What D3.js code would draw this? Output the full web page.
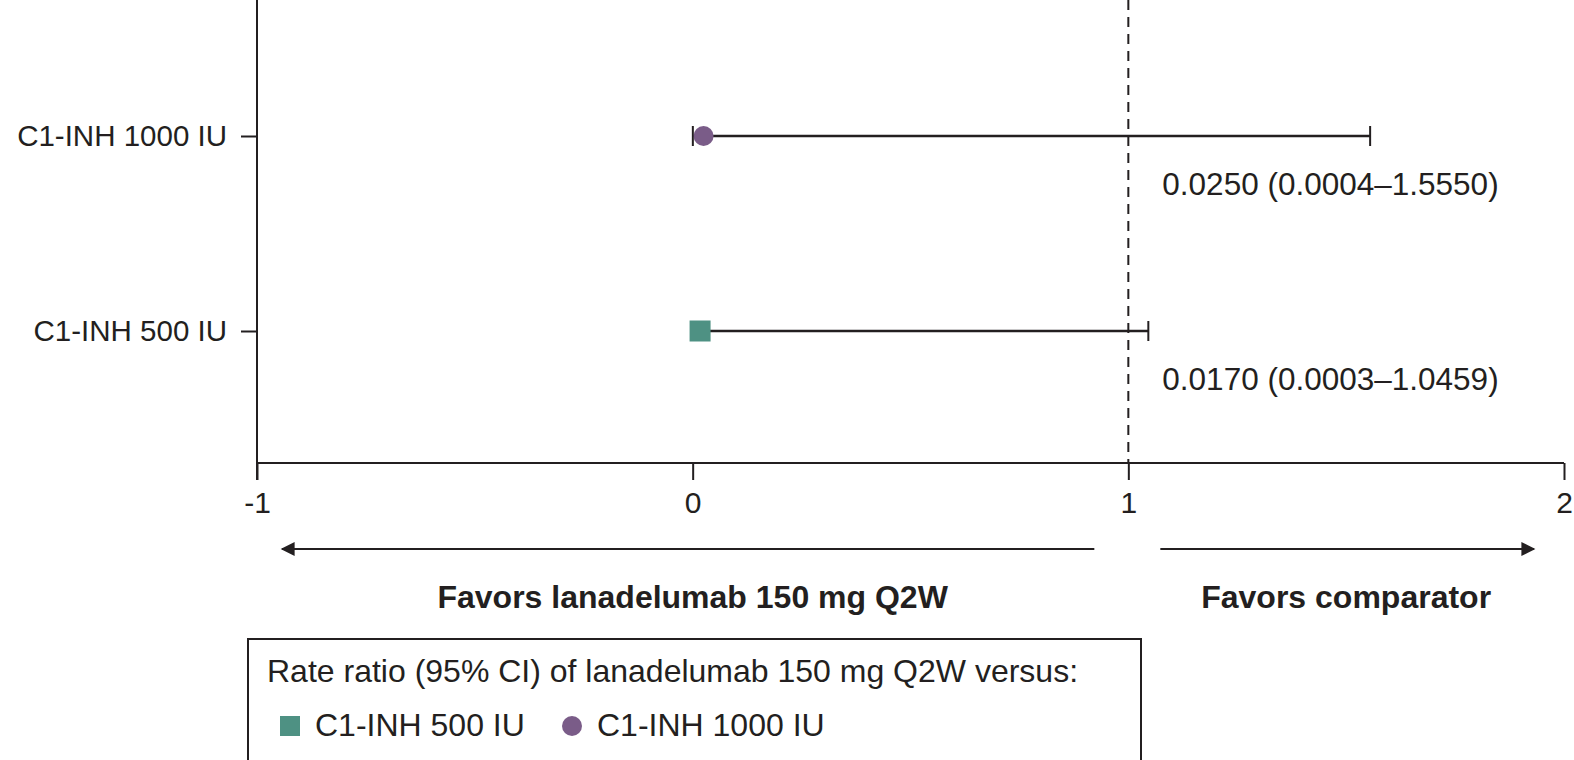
<!DOCTYPE html>
<html>
<head>
<meta charset="utf-8">
<script src="https://cdn.jsdelivr.net/npm/d3@7"></script>
<style>
  body { margin: 0; background: #fff; }
  svg text { font-family: "Liberation Sans", Arial, sans-serif; fill: #231f20; }
</style>
</head>
<body>
<div id="chart-area"></div>
<script>
// SVG size
let width = 1574,
	height = 760;

// data
let groups = ["C1-INH 1000 IU", "C1-INH 500 IU"];
let estimates = [0.0250, 0.0170];
let lowerCI = [0.0004, 0.0003];
let upperCI = [1.5550, 1.0459];
let ciLabels = ["0.0250 (0.0004\u20131.5550)", "0.0170 (0.0003\u20131.0459)"];
let shapes = ["circle", "square"];
let colors = ["#7a5c88", "#4e9183"];
let xTicks = [-1, 0, 1, 2];
let favorLabels = ["Favors lanadelumab 150 mg Q2W", "Favors comparator"];
let legendTitle = "Rate ratio (95% CI) of lanadelumab 150 mg Q2W versus:";
let legendOrder = [1, 0]; // 500 IU first, then 1000 IU

drawChart();

function drawChart() {
	let svg = d3.select("#chart-area").append("svg").attr("width", width).attr("height", height);

	let left = 257, right = 1564, axisY = 463;
	let ink = "#231f20";

	let x = d3.scaleLinear().domain([-1, 2]).range([left, right]);
	let y = d3.scalePoint().domain(groups).range([136, 331]);

	// reference line at 1
	svg.append("line")
	.attr("x1", x(1)).attr("x2", x(1))
	.attr("y1", 0).attr("y2", axisY)
	.attr("stroke", ink).attr("stroke-width", 2)
	.attr("stroke-dasharray", "10,7");

	// axes
	let xAxis = d3.axisBottom(x).tickValues(xTicks).tickSize(17).tickPadding(12).tickFormat(d3.format("d"));
	let gx = svg.append("g")
	.attr("class", "axis x-axis")
	.attr("transform", "translate(0," + axisY + ")")
	.call(xAxis);
	gx.select(".domain").attr("stroke", ink).attr("stroke-width", 2).attr("d", "M" + left + ",0H" + right);
	gx.selectAll(".tick line").attr("stroke", ink).attr("stroke-width", 2);
	gx.selectAll(".tick text").attr("font-size", 30).attr("fill", ink)
	.text(d => d < 0 ? "-" + Math.abs(d) : d);

	let yAxis = d3.axisLeft(y).tickSize(16).tickPadding(14);
	let gy = svg.append("g")
	.attr("class", "axis y-axis")
	.attr("transform", "translate(" + left + ",0)")
	.call(yAxis);
	gy.select(".domain").attr("stroke", ink).attr("stroke-width", 2).attr("d", "M0,0V" + (axisY + 17));
	gy.selectAll(".tick line").attr("stroke", ink).attr("stroke-width", 2);
	gy.selectAll(".tick text").attr("font-size", 29.5).attr("fill", ink);

	// confidence intervals
	let rows = groups.map((g, i) => ({g: g, est: estimates[i], lo: lowerCI[i], hi: upperCI[i], shape: shapes[i], color: colors[i], label: ciLabels[i]}));

	let row = svg.selectAll(".row").data(rows).enter().append("g").attr("class", "row");

	row.append("line")
	.attr("x1", d => x(d.lo)).attr("x2", d => x(d.hi))
	.attr("y1", d => y(d.g)).attr("y2", d => y(d.g))
	.attr("stroke", ink).attr("stroke-width", 2.5);

	row.selectAll(".cap").data(d => [d.lo, d.hi].map(v => ({v: v, g: d.g}))).enter().append("line")
	.attr("class", "cap")
	.attr("x1", d => x(d.v)).attr("x2", d => x(d.v))
	.attr("y1", d => y(d.g) - 10).attr("y2", d => y(d.g) + 10)
	.attr("stroke", ink).attr("stroke-width", 2);

	row.each(function(d) {
		let g = d3.select(this);
		if (d.shape === "circle") {
			g.append("circle").attr("cx", x(d.est)).attr("cy", y(d.g)).attr("r", 10).attr("fill", d.color);
		} else {
			g.append("rect").attr("x", x(d.est) - 10.5).attr("y", y(d.g) - 10.5).attr("width", 21).attr("height", 21).attr("fill", d.color);
		}
	});

	row.append("text")
	.attr("x", x(1) + 34)
	.attr("y", d => y(d.g) + 59)
	.attr("font-size", 31.5)
	.text(d => d.label);

	// direction arrows
	let defs = svg.append("defs");
	defs.append("marker").attr("id", "head")
	.attr("viewBox", "0 0 10 10").attr("refX", 9).attr("refY", 5)
	.attr("markerWidth", 22).attr("markerHeight", 14).attr("markerUnits", "userSpaceOnUse")
	.attr("orient", "auto-start-reverse")
	.append("path").attr("d", "M0,0L10,5L0,10z").attr("fill", ink);

	let arrowY = 549;
	svg.append("line")
	.attr("x1", x(1) - 34).attr("x2", x(-1) + 25)
	.attr("y1", arrowY).attr("y2", arrowY)
	.attr("stroke", ink).attr("stroke-width", 2)
	.attr("marker-end", "url(#head)");
	svg.append("line")
	.attr("x1", x(1) + 32).attr("x2", x(2) - 30)
	.attr("y1", arrowY).attr("y2", arrowY)
	.attr("stroke", ink).attr("stroke-width", 2)
	.attr("marker-end", "url(#head)");

	svg.append("text")
	.attr("x", x(0)).attr("y", 608)
	.attr("text-anchor", "middle").attr("font-size", 32).attr("font-weight", "bold")
	.text(favorLabels[0]);
	svg.append("text")
	.attr("x", x(1.5)).attr("y", 608)
	.attr("text-anchor", "middle").attr("font-size", 32).attr("font-weight", "bold")
	.text(favorLabels[1]);

	// legend box
	let lg = svg.append("g").attr("transform", "translate(248,639)");
	lg.append("rect").attr("x", 0).attr("y", 0).attr("width", 893).attr("height", 124)
	.attr("fill", "none").attr("stroke", ink).attr("stroke-width", 2);
	lg.append("text").attr("x", 19).attr("y", 43).attr("font-size", 32).text(legendTitle);

	let itemX = [32, 314];
	legendOrder.forEach((k, j) => {
		let it = lg.append("g").attr("transform", "translate(" + itemX[j] + ",87)");
		if (shapes[k] === "circle") {
			it.append("circle").attr("cx", 10).attr("cy", 0).attr("r", 10).attr("fill", colors[k]);
		} else {
			it.append("rect").attr("x", 0).attr("y", -10).attr("width", 20).attr("height", 20).attr("fill", colors[k]);
		}
		it.append("text").attr("x", 35).attr("y", 10).attr("font-size", 32).text(groups[k]);
	});
}
</script>
</body>
</html>
